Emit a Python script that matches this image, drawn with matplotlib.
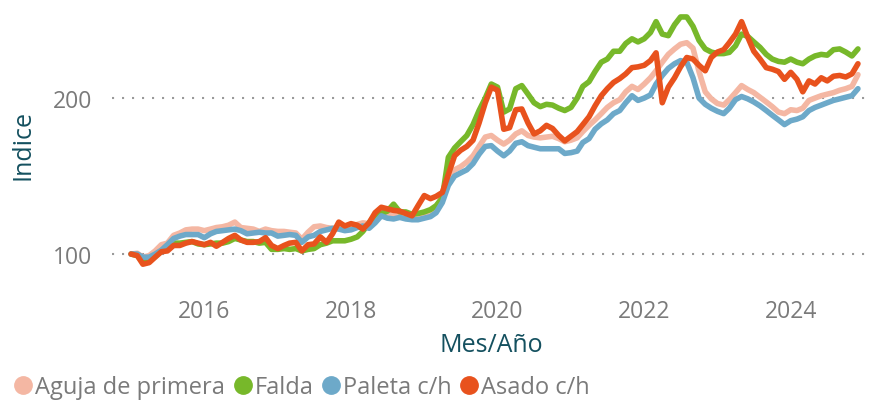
import matplotlib
matplotlib.use("Agg")
import matplotlib.pyplot as plt
import matplotlib.dates as mdates
from matplotlib.lines import Line2D
import pandas as pd

# monthly index, Jan 2015 .. Dec 2024
months = pd.date_range("2015-01-01", "2024-12-01", freq="MS")

aguja = [
    100, 100.5, 98, 99, 102, 106, 107, 112, 113.5, 115.5,
    116, 116, 115, 116, 117, 117.5, 118.5, 120.5, 117, 116.5,
    116, 114.5, 116, 115, 114.5, 114.5, 114, 113.5, 109.5, 114,
    117.5, 118, 117, 116.5, 116.5, 116.5, 116.5, 119, 120, 119.5,
    123, 127, 126, 125.5, 125, 124.5, 124, 124, 125, 127,
    130, 137, 150, 154, 156, 159, 163, 169, 175, 176,
    173, 170.5, 173, 177, 179, 176, 175, 174.5, 175, 175.5,
    174, 172, 173, 174.5, 178.5, 182.5, 186, 190, 194, 197,
    199, 204, 207.5, 205.5, 209, 213, 217.5, 223, 228, 231.5,
    234.5, 235.5, 232, 217, 204, 199.5, 196.5, 195.5, 199, 203.5,
    208, 205.5, 203.5, 200.5, 197.5, 194.5, 191, 190, 192.5, 192,
    193.5, 198.5, 200, 201.5, 202.5, 203.5, 205, 206, 207.5, 215,
]
falda = [
    100, 99, 95, 95.5, 98.5, 102, 103, 107, 107, 107.5,
    108, 106.5, 106, 106.5, 107, 107, 108, 110, 109, 108,
    108, 107, 107.5, 103, 103, 103.5, 103, 103.5, 102, 103,
    103.5, 106, 107, 108.5, 108.5, 108.5, 109.5, 111, 114.5, 120,
    125, 126, 127.5, 132, 127, 127, 125.5, 126, 127, 128.5,
    131, 136, 162, 168, 172, 176, 183, 192, 200, 209,
    207, 191, 193, 206, 208, 202.5, 197, 194.5, 196, 195.5,
    193.5, 192, 194, 200, 207.5, 210.5, 217, 223, 225, 230,
    230, 235, 238, 236, 238, 242, 249, 241, 240, 247,
    252, 252, 246, 237, 231.5, 229.5, 228.5, 228.5, 229.3, 233.5,
    241, 239.5, 236, 232.5, 228, 225, 223.5, 223, 225, 223,
    222, 225, 227, 228, 227.5, 231, 231.5, 229.5, 227, 231.5,
]
paleta = [
    100, 100, 98, 98, 100, 102.5, 106, 110, 111.5, 112.5,
    112.5, 112.5, 110.5, 113, 114.5, 115, 115.5, 116, 115, 113,
    113.5, 114, 113.5, 113.5, 111.5, 112, 112.5, 112, 107.5, 111,
    112, 114.5, 115.5, 116.5, 116, 115, 115.5, 117, 118, 116.5,
    120, 124.5, 123, 122.5, 123.5, 122.5, 122, 122, 123, 124,
    126.5, 133, 144, 150, 152, 154, 158, 164, 169, 169.5,
    166, 163, 166, 171, 172, 169.5, 168.5, 167.5, 167.5, 167.5,
    167.5, 164.5, 165, 166, 171.5, 174, 180, 183.5, 186, 190,
    192, 197, 201.5, 198.5, 200, 202, 209, 214.5, 219, 222,
    224, 223, 213, 200, 196, 193.5, 191.5, 190, 193.5, 199,
    201, 199.5, 197.5, 195, 192, 189, 186, 183, 185.5, 186.5,
    188, 192, 194, 195.5, 197, 198.5, 199.5, 200.5, 201.5, 206,
]
asado = [
    100, 99, 93.5, 94.5, 98, 101.5, 102, 105.5, 105.5, 107,
    108, 107, 106, 107.5, 105, 107.5, 110, 112, 109, 107.5,
    107.5, 108, 110.5, 105.5, 103.5, 105.5, 107, 107.5, 102, 106,
    106.5, 111, 107.5, 113, 120.5, 118, 119.5, 118.5, 116, 120,
    126.5, 130, 129, 128, 127.5, 126, 124.5, 131, 137.5, 135.5,
    137, 139.5, 151, 163, 166.5, 169, 173, 184, 197, 207,
    205, 180, 181, 192.5, 193, 184, 177, 179, 182.5, 180.5,
    176, 172.5, 175.5, 178.5, 183, 188, 195, 201.5, 206, 210,
    212.5, 215.5, 219.5, 220, 221, 224, 229, 197, 207, 213,
    220, 226, 225, 221, 217.5, 226, 229.5, 231, 235.5, 241,
    249, 239, 230, 225, 219.5, 218.5, 217, 212, 216.5, 212,
    204, 211, 209, 213, 211, 214, 214.5, 213.5, 215.5, 222,
]

series_names = ["Aguja de primera", "Falda", "Paleta c/h", "Asado c/h"]
series_values = [aguja, falda, paleta, asado]
colors = ["#F4B7A3", "#77B82A", "#6DA9C9", "#E8521D"]

label_color = "#14505F"
tick_color = "#7A7A7A"
font = ["Open Sans", "DejaVu Sans"]
plt.rcParams["font.family"] = font

fig = plt.figure(figsize=(8.75, 4.02), dpi=100)
ax = fig.add_axes([112 / 875, 1 - 285 / 402, 758 / 875, 280 / 402])

for name, values, color in zip(series_names, series_values, colors):
    ax.plot(months, values, color=color, linewidth=4.0,
            solid_joinstyle="round", solid_capstyle="round", label=name)

ax.set_ylim(80.8, 260.3)
ax.set_xlim(months[0] - pd.Timedelta(days=95), months[-1] + pd.Timedelta(days=60))
ax.set_yticks([100, 200])
ax.xaxis.set_major_locator(mdates.YearLocator(2))
ax.xaxis.set_major_formatter(mdates.DateFormatter("%Y"))

ax.tick_params(axis="both", length=0, labelsize=16.5, labelcolor=tick_color)
ax.tick_params(axis="y", pad=14)
ax.tick_params(axis="x", pad=11)
ax.yaxis.grid(True, color="#9a9a9a", linestyle=(0, (1, 3.8)), linewidth=1.5)
ax.set_axisbelow(True)
for spine in ax.spines.values():
    spine.set_visible(False)

ax.set_ylabel("Indice", fontsize=18, color=label_color, va="center")
ax.yaxis.set_label_coords((23 - 112) / 758, 0.5)
ax.set_xlabel("Mes/Año", fontsize=18, color=label_color, va="center")
ax.xaxis.set_label_coords(0.5, (285 - 345) / 280)

handles = [Line2D([], [], marker="o", linestyle="", markersize=12.5,
                  color=c) for c in colors]
fig.legend(handles, series_names, loc="center left",
           bbox_to_anchor=(15 / 875, 1 - 388 / 402), ncol=4, frameon=False,
           fontsize=17, labelcolor=tick_color, handlelength=0.7,
           handletextpad=0.15, columnspacing=0.4, borderpad=0,
           borderaxespad=0)

fig.savefig("out.png", dpi=100)
plt.close(fig)
